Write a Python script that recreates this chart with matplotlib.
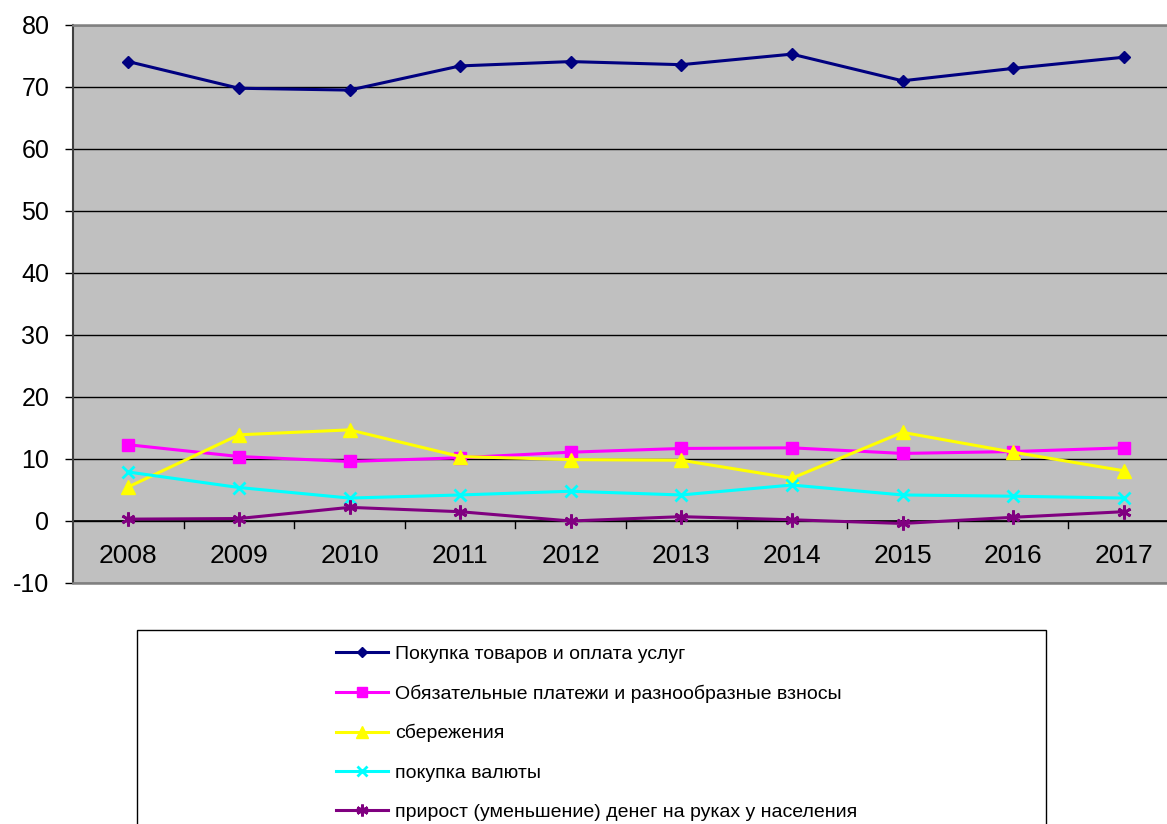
import numpy as np
import matplotlib.pyplot as plt
from matplotlib.patches import Rectangle

plt.rcParams['font.family'] = ['Liberation Sans', 'DejaVu Sans']
plt.rcParams['axes.unicode_minus'] = False

years = ['2008', '2009', '2010', '2011', '2012', '2013', '2014', '2015', '2016', '2017']

# shares of household spending, %
goods_services = [74.1, 69.8, 69.5, 73.4, 74.1, 73.6, 75.3, 71.0, 73.0, 74.8]
obligatory = [12.3, 10.4, 9.6, 10.2, 11.1, 11.7, 11.8, 10.9, 11.2, 11.8]
savings = [5.5, 13.9, 14.7, 10.4, 9.9, 9.8, 6.9, 14.3, 11.1, 8.1]
currency = [7.9, 5.4, 3.7, 4.2, 4.8, 4.2, 5.8, 4.2, 4.0, 3.7]
cash_change = [0.3, 0.4, 2.2, 1.5, 0.0, 0.7, 0.2, -0.4, 0.6, 1.5]

labels = ['Покупка товаров и оплата услуг',
          'Обязательные платежи и разнообразные взносы',
          'сбережения',
          'покупка валюты',
          'прирост (уменьшение) денег на руках у населения']


def main():
    fig = plt.figure(figsize=(11.67, 8.24), dpi=100)
    ax = fig.add_axes([73 / 1167, 1 - 583 / 824, 1106 / 1167, 558 / 824])
    ax.set_facecolor('#C0C0C0')

    x = np.arange(len(years))
    series = [
        (goods_services, '#000080', dict(marker='D', markersize=6.5)),
        (obligatory, '#FF00FF', dict(marker='s', markersize=9)),
        (savings, '#FFFF00', dict(marker='^', markersize=10)),
        (currency, '#00FFFF', dict(marker='x', markersize=9, markeredgewidth=2)),
        (cash_change, '#800080', dict(marker=(6, 2, 0), markersize=10, markeredgewidth=2)),
    ]
    for (vals, col, mk), lab in zip(series, labels):
        ax.plot(x, vals, color=col, linewidth=2.2, label=lab, zorder=3,
                markerfacecolor=col, markeredgecolor=col, **mk)

    ax.set_ylim(-10, 80)
    ax.set_xlim(-0.5, len(years) - 0.5)
    ax.set_yticks(np.arange(-10, 81, 10))
    ax.yaxis.grid(True, color='black', linewidth=1)
    ax.set_axisbelow(True)
    ax.tick_params(axis='y', labelsize=18, length=6, width=1, direction='out', pad=11)

    # category axis crosses at 0
    ax.set_xticks([])
    ax.axhline(0, color='black', linewidth=1.2, zorder=2)
    for b in np.arange(0.5, len(years) - 0.5, 1):
        ax.plot([b, b], [0, -1.1], color='black', linewidth=1, zorder=2, clip_on=False)
    for i, yr in enumerate(years):
        ax.text(i, -6.8, yr, ha='center', va='baseline', fontsize=19)

    ax.spines['right'].set_visible(False)
    for s in ['top', 'bottom']:
        ax.spines[s].set_color('#808080')
        ax.spines[s].set_linewidth(1.8)
    ax.spines['left'].set_color('#404040')
    ax.spines['left'].set_linewidth(1.5)

    # legend box
    fig.patches.append(Rectangle((137 / 1167, -0.01), (1046 - 137) / 1167, 1 - 630 / 824 + 0.01,
                                 transform=fig.transFigure, facecolor='white',
                                 edgecolor='black', linewidth=1))
    handles, labs = ax.get_legend_handles_labels()
    fig.legend(handles, labs, loc='upper left', bbox_to_anchor=(336 / 1167, 1 - 645 / 824),
               frameon=False, fontsize=14, labelspacing=1.11, handlelength=2.67,
               handletextpad=0.36, borderpad=0, borderaxespad=0, markerscale=0.85)

    fig.savefig('out.png', dpi=100)


if __name__ == "__main__":
    main()
